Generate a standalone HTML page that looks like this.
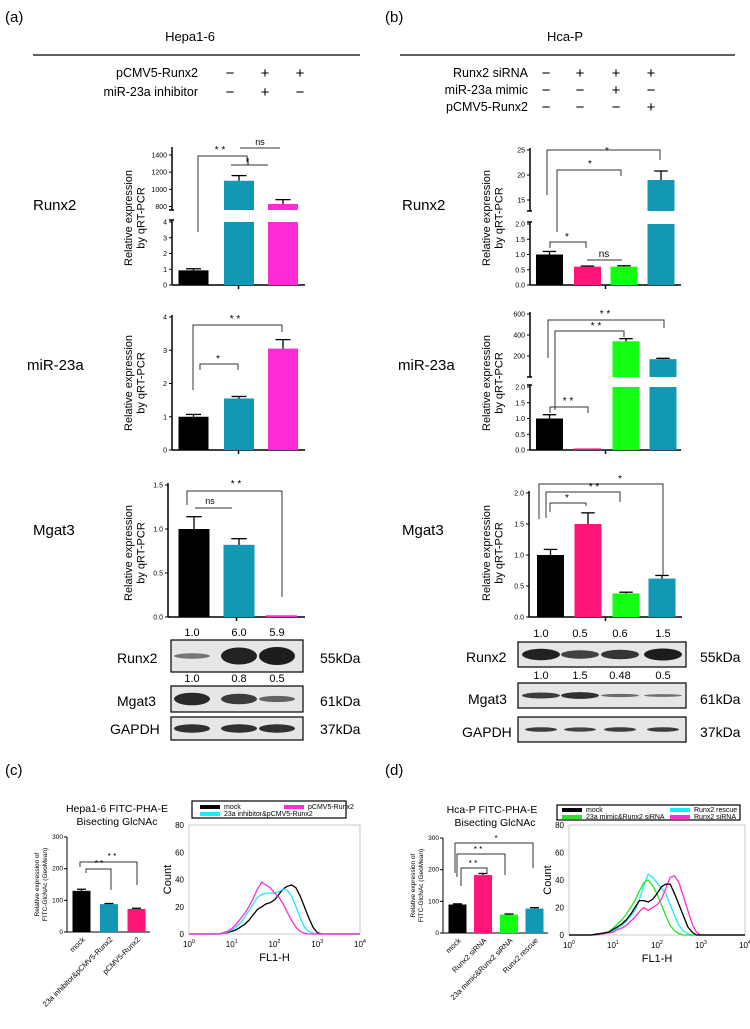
<!DOCTYPE html>
<html><head><meta charset="utf-8">
<style>
html,body{margin:0;padding:0;background:#fff;}
svg{display:block;font-family:"Liberation Sans",Arial,sans-serif;}
</style></head>
<body>
<svg id="fig" width="750" height="1029" viewBox="0 0 750 1029" xmlns="http://www.w3.org/2000/svg">
<g font-size="13" fill="#000">
  <text x="5" y="22" font-size="15">(a)</text>
  <text x="190" y="41" text-anchor="middle">Hepa1-6</text>
  <line x1="33" y1="55" x2="360" y2="55" stroke="#000" stroke-width="1.2"/>
  <text x="198" y="77" text-anchor="end" font-size="12.5">pCMV5-Runx2</text>
  <text x="198" y="96" text-anchor="end" font-size="12.5">miR-23a inhibitor</text>
  <text x="230" y="78" text-anchor="middle" font-size="15">−</text><text x="265" y="78" text-anchor="middle" font-size="15">+</text><text x="300" y="78" text-anchor="middle" font-size="15">+</text>
  <text x="230" y="97" text-anchor="middle" font-size="15">−</text><text x="265" y="97" text-anchor="middle" font-size="15">+</text><text x="300" y="97" text-anchor="middle" font-size="15">−</text>
  <text x="33" y="210" font-size="15">Runx2</text>
  <text x="27" y="370" font-size="15">miR-23a</text>
  <text x="33" y="535" font-size="15">Mgat3</text>
</g>
<g font-size="13" fill="#000">
  <text x="385" y="22" font-size="15">(b)</text>
  <text x="565" y="41" text-anchor="middle">Hca-P</text>
  <line x1="400" y1="55" x2="735" y2="55" stroke="#000" stroke-width="1.2"/>
  <text x="528" y="77" text-anchor="end" font-size="12.5">Runx2 siRNA</text>
  <text x="528" y="94" text-anchor="end" font-size="12.5">miR-23a mimic</text>
  <text x="528" y="111" text-anchor="end" font-size="12.5">pCMV5-Runx2</text>
  <text x="546" y="78" text-anchor="middle" font-size="15">−</text><text x="580" y="78" text-anchor="middle" font-size="15">+</text><text x="616" y="78" text-anchor="middle" font-size="15">+</text><text x="651" y="78" text-anchor="middle" font-size="15">+</text>
  <text x="546" y="95" text-anchor="middle" font-size="15">−</text><text x="580" y="95" text-anchor="middle" font-size="15">−</text><text x="616" y="95" text-anchor="middle" font-size="15">+</text><text x="651" y="95" text-anchor="middle" font-size="15">−</text>
  <text x="546" y="112" text-anchor="middle" font-size="15">−</text><text x="580" y="112" text-anchor="middle" font-size="15">−</text><text x="616" y="112" text-anchor="middle" font-size="15">−</text><text x="651" y="112" text-anchor="middle" font-size="15">+</text>
  <text x="402" y="210" font-size="15">Runx2</text>
  <text x="398" y="370" font-size="15">miR-23a</text>
  <text x="402" y="535" font-size="15">Mgat3</text>
</g>
<g>
  <text x="5" y="775" font-size="15">(c)</text>
  <text x="117" y="812" text-anchor="middle" font-size="10.5">Hepa1-6 FITC-PHA-E</text>
  <text x="117" y="825" text-anchor="middle" font-size="10.5">Bisecting GlcNAc</text>
  <text x="385" y="775" font-size="15">(d)</text>
  <text x="492" y="813" text-anchor="middle" font-size="10.5">Hca-P FITC-PHA-E</text>
  <text x="495" y="826" text-anchor="middle" font-size="10.5">Bisecting GlcNAc</text>
</g>
<g id="charts"></g>
</svg>
<script>
// ---------- data ----------
const a1Cats=["ctrl","pCMV5-Runx2+inhibitor","pCMV5-Runx2"];
const a1Vals=[0.93,1100,830];
const a1Errs=[0.1,60,50];
const a2Vals=[1.0,1.55,3.05];
const a2Errs=[0.07,0.06,0.27];
const a3Vals=[1.0,0.82,0.02];
const a3Errs=[0.14,0.07,0];
const b1Vals=[1.0,0.6,0.6,19];
const b1Errs=[0.1,0.02,0.03,1.8];
const b2Vals=[1.0,0.05,340,170];
const b2Errs=[0.12,0,25,8];
const b3Vals=[1.0,1.5,0.38,0.62];
const b3Errs=[0.09,0.18,0.02,0.05];
const cCats=["mock","23a inhibitor&pCMV5-Runx2","pCMV5-Runx2"];
const cVals=[130,88,73];
const cErrs=[5,2,2];
const dCats=["mock","Runx2 siRNA","23a mimic&Runx2 siRNA","Runx2 rescue"];
const dVals=[90,183,58,77];
const dErrs=[2,5,2,3];
const a1UpperTicks=[800,1000,1200,1400];
const a1LowerTicks=[0,1,2,3,4];
const a2Ticks=[0,1,2,3,4];
const a3Ticks=[0,0.5,1.0,1.5];
const b1UpperTicks=[15,20,25];
const b1LowerTicks=[0,0.5,1.0,1.5,2.0];
const b2UpperTicks=[200,400,600];
const b2LowerTicks=[0,0.5,1.0,1.5,2.0];
const b3Ticks=[0,0.5,1.0,1.5,2.0];
const barTicks300=[0,100,200,300];
const blotA_Runx2Labels=["1.0","6.0","5.9"];
const blotA_Mgat3Labels=["1.0","0.8","0.5"];
const blotB_Runx2Labels=["1.0","0.5","0.6","1.5"];
const blotB_Mgat3Labels=["1.0","1.5","0.48","0.5"];
const histLogX=[0.5,0.6,0.7,0.8,0.9,1.0,1.1,1.2,1.3,1.4,1.5,1.6,1.7,1.8,1.9,2.0,2.1,2.2,2.3,2.4,2.5,2.6,2.7,2.8,2.9,3.0,3.1,3.2,3.3,3.4,3.5];
const cMock=[0,0,0,0.5,1,2,3,5,7,10,14,18,20,22,23,25,29,33,35,36,34,28,20,12,5,1,0,0,0,0,0];
const cInhib=[0,0,0,0.5,1.5,3,5,8,12,17,22,27,29,30,30,30,31,33,32,28,20,12,5,2,0.5,0,0,0,0,0,0];
const cRunx2=[0,0,0,1,2,4,7,11,15,20,26,33,38,36,34,30,27,22,16,10,5,2,0.5,0,0,0,0,0,0,0,0];
const dMock=[0,0.5,1,1.5,2,4,6,8,11,15,20,25,25,24,26,30,35,37,37,30,22,14,6,2,0,0,0,0,0,0,0];
const dMimic=[0,0.5,1,1.5,2.5,5,8,11,15,20,25,32,38,40,36,30,22,14,7,3,1,0,0,0,0,0,0,0,0,0,0];
const dRescue=[0,0.5,1,1,2,3,5,7,10,14,18,26,36,44,42,38,34,30,22,14,7,3,1,0,0,0,0,0,0,0,0];
const dSiRNA=[0,0,0.5,1,1.5,2,4,5,7,10,13,17,20,18,20,22,26,34,42,43,38,28,18,8,2,0,0,0,0,0,0];
const histYTicks=[0,20,40,60,80];
const histXTicks=[0,1,2,3,4];

// ---------- helpers ----------
const NS="http://www.w3.org/2000/svg";
const root=document.getElementById("charts");
function mk(tag,attrs,parent,name){
  const el=document.createElementNS(NS,tag);
  for(const k in attrs) el.setAttribute(k,attrs[k]);
  
  
  (parent||root).appendChild(el);
  return el;
}
function txt(x,y,s,size,anchor,parent,name,extra){
  const t=mk("text",Object.assign({x:x,y:y,"font-size":size,"text-anchor":anchor||"start"},extra||{}),parent,name);
  t.textContent=s;return t;
}
function line(x1,y1,x2,y2,g,name,w,col){return mk("line",{x1,y1,x2,y2,stroke:col||"#000","stroke-width":w||1},g,name);}
function lin(d0,d1,p0,p1){return v=>p0+(v-d0)*(p1-p0)/(d1-d0);}
function fmt(v,dec){return dec?v.toFixed(1):String(v);}
function ylabel(x,y,g,size){
  const t=mk("text",{transform:`translate(${x},${y}) rotate(-90)`,"font-size":size||11,"text-anchor":"middle"},g,"y-axis-title");
  const s1=mk("tspan",{x:0,dy:0},t,"y-title-line1");s1.textContent="Relative expression";
  const s2=mk("tspan",{x:0,dy:size?size*1.15:12.5},t,"y-title-line2");s2.textContent="by qRT-PCR";
}
function axisSeg(g,ax,yTop,yBot,ticks,sc,dec,fs){
  line(ax,yTop,ax,yBot,g,"y-axis",1.5);
  ticks.forEach(t=>{const y=sc(t);line(ax-3,y,ax,y,g,"y-tick",1);txt(ax-5,y+2.5,fmt(t,dec),fs||7,"end",g,"y-tick-label");});
}
function errBar(g,cx,yTop,yErr,w){
  line(cx,yTop,cx,yErr,g,"error-bar",1.3);
  line(cx-w,yErr,cx+w,yErr,g,"error-cap",1.3);
}
function bars(cfg){
  const g=mk("g",{},root,cfg.name);
  const lo=lin(0,cfg.loMax,cfg.loY0,cfg.loY1);
  axisSeg(g,cfg.ax,cfg.loY1-2,cfg.loY0,cfg.loTicks,lo,cfg.dec,cfg.fs);
  let up=null;
  if(cfg.up){
    up=lin(cfg.up.d0,cfg.up.d1,cfg.up.p0,cfg.up.p1);
    axisSeg(g,cfg.ax,cfg.up.top,cfg.up.bot,cfg.upTicks,up,false,cfg.fs);
    line(cfg.ax-3,cfg.up.bot,cfg.ax+2,cfg.up.bot,g,"axis-break",1.5);
    line(cfg.ax-3,cfg.loY1-2,cfg.ax+2,cfg.loY1-2,g,"axis-break",1.5);
  }
  line(cfg.ax,cfg.loY0,cfg.xEnd,cfg.loY0,g,"x-axis",1.5);
  line((cfg.ax+cfg.xEnd)/2,cfg.loY0,(cfg.ax+cfg.xEnd)/2,cfg.loY0+4,g,"x-tick",1.5);
  cfg.vals.forEach((v,i)=>{
    const cx=cfg.cx[i],w=cfg.bw,col=cfg.colors[i],e=cfg.errs[i];
    if(up && v>cfg.loMax){
      mk("rect",{x:cx-w/2,y:cfg.loY1,width:w,height:cfg.loY0-cfg.loY1,fill:col},g,"bar-lower-"+i);
      const yv=up(v);
      mk("rect",{x:cx-w/2,y:yv,width:w,height:cfg.up.bot-yv,fill:col},g,"bar-upper-"+i);
      if(e>0)errBar(g,cx,yv,up(v+e),w/4);
    }else{
      const yv=lo(v);
      mk("rect",{x:cx-w/2,y:yv,width:w,height:Math.max(cfg.loY0-yv,0.8),fill:col},g,"bar-"+i);
      if(e>0)errBar(g,cx,yv,lo(v+e),w/4);
    }
  });
  return g;
}
function bracket(g,pts,label,lx,ly,fs){
  mk("polyline",{points:pts,fill:"none",stroke:"#333","stroke-width":1},g,"significance-bracket");
  txt(lx,ly,label,fs||10,"middle",g,"significance-label");
}
const BLK="#000",BLU="#1297b5",PNK="#ff2bd4",HOT="#ff1478",GRN="#12ff12";

// ---------- panel a ----------
let g=bars({name:"chart-a-runx2",ax:172,xEnd:305,cx:[193.5,239,283],bw:30,vals:a1Vals,errs:a1Errs,colors:[BLK,BLU,PNK],
  loMax:4,loY0:285,loY1:222,loTicks:a1LowerTicks,upTicks:a1UpperTicks,
  up:{d0:800,d1:1400,p0:206.5,p1:155,top:147,bot:210}});
ylabel(132,218,g,11);
bracket(g,"198,232 198,156 247,156 247,162","* *",220,153);
bracket(g,"231,165 268,165","",0,0);
line(248,158,248,165,g,"bracket-stem",1);
bracket(g,"240,148 280,148","ns",260,145,9);

g=bars({name:"chart-a-mir23a",ax:172,xEnd:305,cx:[193.5,239,283],bw:30,vals:a2Vals,errs:a2Errs,colors:[BLK,BLU,PNK],
  loMax:4,loY0:450,loY1:317,loTicks:a2Ticks});
ylabel(132,383,g,11);
bracket(g,"193,390 193,325 282,325 282,332","* *",235,322);
bracket(g,"200,370 200,364 238,364 238,370","*",218,362);

g=bars({name:"chart-a-mgat3",ax:168,xEnd:305,cx:[194,239,281.5],bw:31,vals:a3Vals,errs:a3Errs,colors:[BLK,BLU,PNK],
  loMax:1.5,loY0:617,loY1:485,loTicks:a3Ticks,dec:true});
ylabel(132,553,g,11);
bracket(g,"195,508 232,508","ns",210,504,9);
bracket(g,"187,505 187,491 282,491 282,597","* *",236,487);

// ---------- panel b ----------
g=bars({name:"chart-b-runx2",ax:530,xEnd:681,cx:[549.5,587.5,624,661],bw:27,vals:b1Vals,errs:b1Errs,colors:[BLK,HOT,GRN,BLU],
  loMax:2,loY0:285,loY1:224,loTicks:b1LowerTicks,upTicks:b1UpperTicks,dec:true,
  up:{d0:15,d1:25,p0:200,p1:150,top:148,bot:211}});
ylabel(490,218,g,11);
bracket(g,"547,195 547,150 660,150 660,160","*",607,154);
bracket(g,"557,232 557,170 621,170 621,176","*",590,167);
bracket(g,"550,248 550,242 586,242 586,248","*",567,240);
bracket(g,"587,260 622,260","ns",604,257,10);

g=bars({name:"chart-b-mir23a",ax:530,xEnd:681,cx:[549.5,587.5,626,663],bw:27,vals:b2Vals,errs:b2Errs,colors:[BLK,HOT,GRN,BLU],
  loMax:2,loY0:450,loY1:387,loTicks:b2LowerTicks,upTicks:b2UpperTicks,dec:true,
  up:{d0:200,d1:600,p0:356,p1:314,top:312,bot:377}});
ylabel(490,383,g,11);
bracket(g,"548,358 548,320 664,320 664,328","* *",605,317);
bracket(g,"555,410 555,331 624,331 624,337","* *",596,329);
bracket(g,"550,413 550,407 588,407 588,413","* *",568,404);

g=bars({name:"chart-b-mgat3",ax:529,xEnd:682,cx:[550.5,588,626,662],bw:27,vals:b3Vals,errs:b3Errs,colors:[BLK,HOT,GRN,BLU],
  loMax:2,loY0:617,loY1:493,loTicks:b3Ticks,dec:true});
ylabel(490,553,g,11);
bracket(g,"539,519 539,484 663,484 663,575","*",620,482);
bracket(g,"546,518 546,492 620,492 620,502","* *",594,490);
bracket(g,"550,512 550,503 586,503 586,506","*",567,501);

// ---------- western blots ----------
function blot(name,x,y,w,h,cx,strength,bandH,rx){
  const gg=mk("g",{},root,name);
  mk("rect",{x:x,y:y,width:w,height:h,fill:"#e6e6e6",stroke:"#000","stroke-width":1.2},gg,"blot-frame");
  cx.forEach((c,i)=>{
    const s=strength[i];
    mk("ellipse",{cx:c,cy:y+h/2,rx:rx||18,ry:bandH*s,fill:"#111","fill-opacity":0.35+0.6*s},gg,"blot-band-"+i);
  });
  return gg;
}
const blotACx=[192,239,277];
blot("blot-a-runx2",171,640,132,32,blotACx,[0.3,0.95,1.0],9);
blot("blot-a-mgat3",171,686,132,26,blotACx,[0.9,0.75,0.45],7);
blot("blot-a-gapdh",171,717,132,23,blotACx,[0.85,0.85,0.85],5);
blotA_Runx2Labels.forEach((s,i)=>txt(blotACx[i],636,s,11,"middle",root,"band-value"));
blotA_Mgat3Labels.forEach((s,i)=>txt(blotACx[i],682,s,11,"middle",root,"band-value"));
txt(117,663,"Runx2",14,"start",root,"blot-label");
txt(117,706,"Mgat3",14,"start",root,"blot-label");
txt(110,734,"GAPDH",14,"start",root,"blot-label");
txt(320,663,"55kDa",14,"start",root,"kda-label");
txt(320,706,"61kDa",14,"start",root,"kda-label");
txt(320,734,"37kDa",14,"start",root,"kda-label");
const blotBCx=[541,580,620,663];
blot("blot-b-runx2",518,642,168,25,blotBCx,[0.95,0.7,0.8,1.0],6,19);
blot("blot-b-mgat3",518,683,168,25,blotBCx,[0.75,0.85,0.4,0.35],4,19);
blot("blot-b-gapdh",518,717,168,25,blotBCx,[0.75,0.7,0.75,0.75],3,16);
blotB_Runx2Labels.forEach((s,i)=>txt(blotBCx[i],637,s,11,"middle",root,"band-value"));
blotB_Mgat3Labels.forEach((s,i)=>txt(blotBCx[i],679,s,11,"middle",root,"band-value"));
txt(466,662,"Runx2",14,"start",root,"blot-label");
txt(468,704,"Mgat3",14,"start",root,"blot-label");
txt(462,737,"GAPDH",14,"start",root,"blot-label");
txt(700,662,"55kDa",14,"start",root,"kda-label");
txt(700,704,"61kDa",14,"start",root,"kda-label");
txt(700,737,"37kDa",14,"start",root,"kda-label");

// ---------- panel c/d bar charts ----------
function smallBars(name,ax,xEnd,y0,y1,cx,bw,vals,errs,colors,cats){
  const gg=mk("g",{},root,name);
  const sc=lin(0,300,y0,y1);
  line(ax,y1,ax,y0,gg,"y-axis",1);
  barTicks300.forEach(t=>{const y=sc(t);line(ax-3,y,ax,y,gg,"y-tick",1);txt(ax-4,y+2,String(t),6.5,"end",gg,"y-tick-label");});
  line(ax,y0,xEnd,y0,gg,"x-axis",1);
  vals.forEach((v,i)=>{
    const yv=sc(v);
    mk("rect",{x:cx[i]-bw/2,y:yv,width:bw,height:y0-yv,fill:colors[i]},gg,"bar-"+i);
    errBar(gg,cx[i],yv,sc(v+errs[i]),bw/4);
    txt(cx[i]+4,y0+8,cats[i],7.5,"end",gg,"x-tick-label",{transform:`rotate(-45 ${cx[i]+4} ${y0+8})`});
  });
  const t=mk("text",{transform:`translate(${ax-28},${(y0+y1)/2}) rotate(-90)`,"font-size":6.5,"text-anchor":"middle"},gg,"y-axis-title");
  const s1=mk("tspan",{x:0,dy:0},t,"y-title-line1");s1.textContent="Relative expression of";
  const s2=mk("tspan",{x:0,dy:8},t,"y-title-line2");s2.textContent="FITC-GlcNAc (GeoMean)";
  return gg;
}
g=smallBars("chart-c-bars",67,150,932,837,[81.5,109,136.5],18,cVals,cErrs,[BLK,BLU,HOT],cCats);
bracket(g,"80,867 80,862 137,862 137,885","* *",112,859,8);
bracket(g,"86,873 86,869 111,869 111,890","* *",99,866,8);
g=smallBars("chart-d-bars",443,548,933,838,[457.5,483,509,534.5],18,dVals,dErrs,[BLK,HOT,GRN,BLU],dCats);
bracket(g,"455,873 455,843 533,843 533,868","*",496,841,8);
bracket(g,"457,877 457,854 505,854 505,875","* *",478,852,8);
bracket(g,"461,886 461,868 487,868 487,873","* *",473,866,8);

// ---------- histograms ----------
function hist(name,x0,x1,y0,y1,series,colors,names){
  const gg=mk("g",{},root,name);
  mk("rect",{x:x0,y:y1,width:x1-x0,height:y0-y1,fill:"none",stroke:"#bbb","stroke-width":0.8},gg,"plot-frame");
  const sx=lin(0,4,x0,x1),sy=lin(0,80,y0,y1);
  histYTicks.forEach(t=>txt(x0-5,sy(t)+3,String(t),8,"end",gg,"y-tick-label"));
  histXTicks.forEach(t=>{
    const tt=txt(sx(t),y0+13,"10",8,"middle",gg,"x-tick-label");
    const sp=mk("tspan",{dy:-4,"font-size":5.5},tt,"x-tick-exponent");sp.textContent=String(t);
  });
  txt(x0-18,(y0+y1)/2,"Count",11,"middle",gg,"y-axis-title",{transform:`rotate(-90 ${x0-18} ${(y0+y1)/2})`});
  txt((x0+x1)/2,y0+27,"FL1-H",11,"middle",gg,"x-axis-title");
  series.forEach((s,i)=>{
    let d=`M${x0},${sy(0)} `;
    histLogX.forEach((lx,j)=>{d+=`L${sx(lx).toFixed(1)},${sy(s[j]).toFixed(1)} `;});
    d+=`L${x1},${sy(0)}`;
    mk("path",{d:d,fill:"none",stroke:colors[i],"stroke-width":1.3},gg,"histogram-"+names[i]);
  });
  return gg;
}
hist("chart-c-histogram",189,360,934,825,[cMock,cInhib,cRunx2],["#000","#22e8ff","#ff2bd4"],["mock","inhibitor","runx2"]);
hist("chart-d-histogram",569,745,935,825,[dRescue,dMimic,dSiRNA,dMock],["#22e8ff","#22e822","#ff2bd4","#000"],["rescue","mimic","sirna","mock"]);

function legend(name,x,y,w,h,items){
  const gg=mk("g",{},root,name);
  mk("rect",{x:x,y:y,width:w,height:h,fill:"#fff",stroke:"#000","stroke-width":1.2},gg,"legend-frame");
  items.forEach(it=>{
    mk("rect",{x:it[0],y:it[1]-4,width:20,height:4,fill:it[2]},gg,"legend-swatch");
    txt(it[0]+24,it[1],it[3],7,"start",gg,"legend-entry");
  });
}
legend("legend-c",192,801,154,17,[[200,809,"#000","mock"],[284,809,"#ff2bd4","pCMV5-Runx2"],[200,816,"#22e8ff","23a inhibitor&pCMV5-Runx2"]]);
legend("legend-d",557,805,183,15,[[562,812,"#000","  mock"],[670,812,"#22e8ff","Runx2 rescue"],[562,819,"#22e822","23a mimic&Runx2 siRNA"],[670,819,"#ff2bd4","Runx2 siRNA"]]);
</script>
</body></html>
